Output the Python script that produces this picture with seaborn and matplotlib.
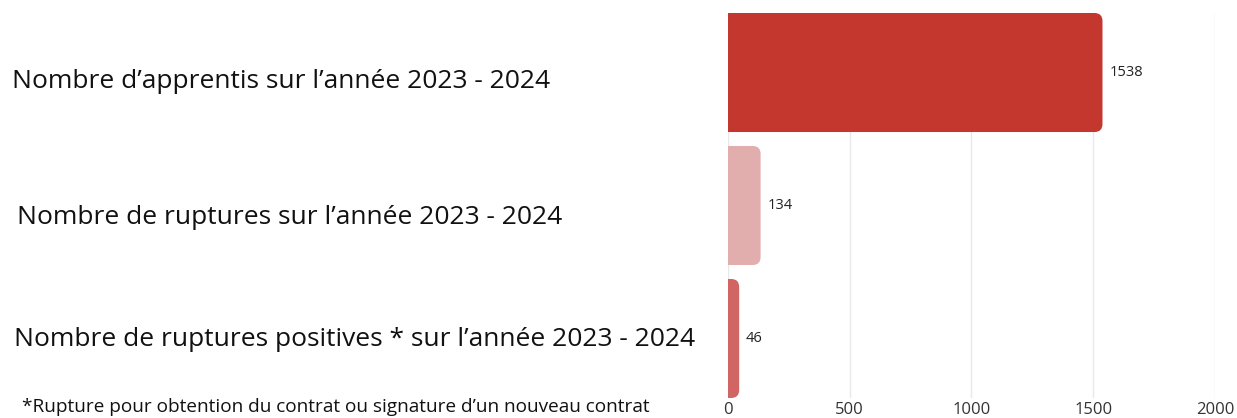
import matplotlib
matplotlib.use("Agg")
import matplotlib.pyplot as plt
import seaborn as sns
from matplotlib.patches import FancyBboxPatch
from matplotlib.transforms import blended_transform_factory

categories = [
    "Nombre d’apprentis sur l’année 2023 - 2024",
    "Nombre de ruptures sur l’année 2023 - 2024",
    "Nombre de ruptures positives * sur l’année 2023 - 2024",
]
values = [1538, 134, 46]
colors = ["#C4372F", "#E2AEAD", "#D06564"]
x_ticks = [0, 500, 1000, 1500, 2000]
footnote = "*Rupture pour obtention du contrat ou signature d’un nouveau contrat"

sns.set_style("white")
plt.rcParams["font.family"] = ["Open Sans", "DejaVu Sans"]

fig = plt.figure(figsize=(12.37, 4.18), dpi=100)
ax = fig.add_axes([0.5885, 1 - 398 / 418, 0.9822 - 0.5885, (398 - 13) / 418])

sns.barplot(x=values, y=categories, hue=categories, palette=colors,
            legend=False, width=0.895, orient="h", ax=ax, saturation=1)

ax.set_xlim(0, 2000)
ax.set_ylim(2.4475, -0.4475)
ax.set_xticks(x_ticks)
ax.set_xticklabels([str(t) for t in x_ticks], fontsize=12, color="#333333")
ax.tick_params(axis="x", length=0, pad=3)
ax.set_yticks([])
ax.set_xlabel("")
ax.set_ylabel("")
ax.grid(True, axis="x", color="#e8e8e8", linewidth=1)
ax.set_axisbelow(True)
for s in ax.spines.values():
    s.set_visible(False)

# value labels
for cont in ax.containers:
    ax.bar_label(cont, labels=[f"{v:.0f}" for v in cont.datavalues],
                 padding=5, fontsize=10.5, color="#222222")

# rounded right ends
rx = 8 * 500 / 121.7
aspect = (1 / 133) / (500 / 121.7)
for p in list(ax.patches):
    x, y, w, h = p.get_x(), p.get_y(), p.get_width(), p.get_height()
    fc = p.get_facecolor()
    p.remove()
    fb = FancyBboxPatch((x - rx, y), w + rx, h,
                        boxstyle=f"round,pad=0,rounding_size={rx}",
                        mutation_aspect=aspect, facecolor=fc, edgecolor="none",
                        zorder=2)
    fb.set_clip_path(ax.patch)
    ax.add_patch(fb)

# category labels on the left
trans = blended_transform_factory(fig.transFigure, ax.transData)
label_x = [12, 17, 14]
label_dy = [0.07, 0.09, 0.01]
for i, lab in enumerate(categories):
    ax.text(label_x[i] / 1237, i + label_dy[i], lab, transform=trans,
            ha="left", va="center", fontsize=19, color="#111111")

fig.text(22 / 1237, 1 - 407 / 418, footnote, ha="left", va="center",
         fontsize=13.7, color="#111111")

fig.savefig("out.png", dpi=100)
